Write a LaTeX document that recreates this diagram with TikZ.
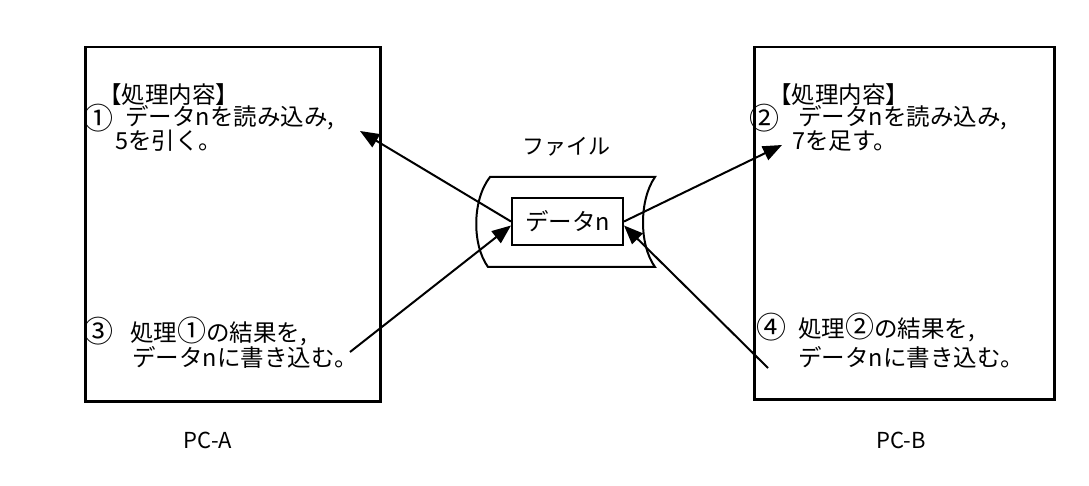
\documentclass[tikz,border=0pt]{standalone}
\usepackage{fontspec}
\setmainfont{Noto Sans CJK JP}
\usetikzlibrary{arrows.meta}
\newcommand{\bignum}[1]{{\fontsize{29}{26}\selectfont #1}}
\begin{document}
\begin{tikzpicture}[x=1pt,y=-1pt,
  txt/.style={anchor=west,inner sep=0pt,font=\fontsize{23.5}{26}\selectfont},
  num/.style={anchor=west,inner sep=0pt,font=\fontsize{30}{30}\selectfont},
  lbl/.style={inner sep=0pt,font=\fontsize{22}{26}\selectfont},
  pcbox/.style={draw,line width=2.5pt,inner sep=0pt,anchor=north west},
  filebox/.style={draw,line width=2pt,inner sep=0pt,minimum width=111pt,minimum height=47pt,font=\fontsize{23.5}{26}\selectfont},
  arr/.style={line width=2pt,-{Triangle[length=19pt,width=15pt]}}]
\useasboundingbox (0,0) rectangle (1089,486);
\fill[white] (0,0) rectangle (1089,486);
% PC boxes
\node[pcbox,minimum width=295pt,minimum height=354pt] (pca) at (84,46) {};
\node[pcbox,minimum width=300pt,minimum height=352pt] (pcb) at (753,46) {};
% file shape
\draw[line width=2pt] (490,177) -- (655,177)
  .. controls (639,200) and (639,245) .. (655,267) -- (488,267)
  .. controls (472,245) and (472,200) .. (490,177) -- cycle;
\node[lbl] (filelbl) at (566,147) {ファイル};
\node[filebox] (data) at (567.5,221.5) {データn};
% left texts
\node[txt] (a1) at (98,95) {【処理内容】};
\node[num] (a2n) at (83,118) {①};
\node[txt] (a2) at (125,118) {データnを読み込み,};
\node[txt] (a3) at (115,141) {5を引く。};
\node[num] (a4n) at (83,331) {③};
\node[txt] (a4) at (130,331) {処理\bignum{①}の結果を,};
\node[txt] (a5) at (132,357) {データnに書き込む。};
% right texts
\node[txt] (b1) at (768,95) {【処理内容】};
\node[num] (b2n) at (749,118) {②};
\node[txt] (b2) at (798,118) {データnを読み込み,};
\node[txt] (b3) at (792,141) {7を足す。};
\node[num] (b4n) at (756,327) {④};
\node[txt] (b4) at (798,327) {処理\bignum{②}の結果を,};
\node[txt] (b5) at (798,357) {データnに書き込む。};
% labels
\node[lbl] (pcalbl) at (208,440) {PC-A};
\node[lbl] (pcblbl) at (901,440) {PC-B};
% arrow ends
\coordinate (t1) at (360,131);
\coordinate (s2) at (350,352);
\coordinate (t3) at (782,145);
\coordinate (s4) at (768,368);
\draw[arr] (data.west) -- (t1);
\draw[arr] (s2) -- ([yshift=-4pt]data.west);
\draw[arr] (data.east) -- (t3);
\draw[arr] (s4) -- ([yshift=-4pt]data.east);
\end{tikzpicture}
\end{document}
